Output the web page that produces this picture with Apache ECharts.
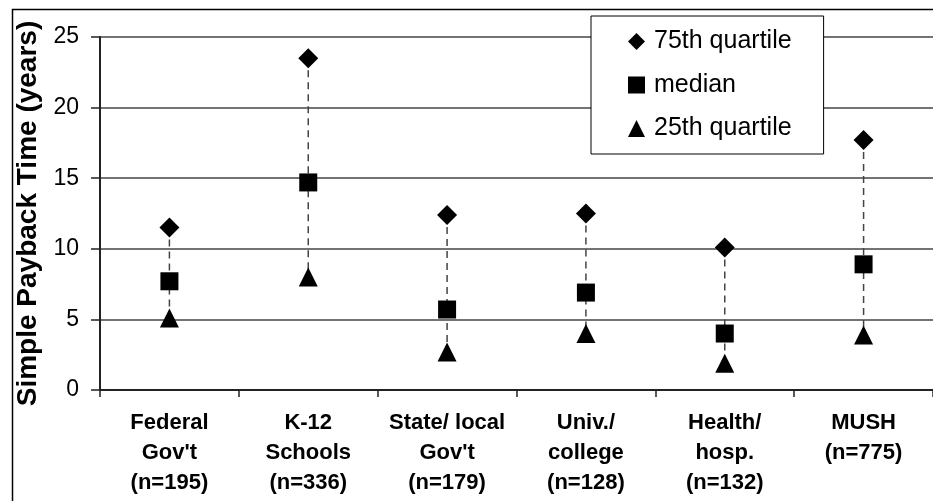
<!DOCTYPE html>
<html>
<head>
<meta charset="utf-8">
<title>Simple Payback Time by Sector</title>
<script src="https://cdn.jsdelivr.net/npm/echarts@6/dist/echarts.min.js"></script>
<style>
  html, body { margin: 0; padding: 0; background: #fff; }
  #chart { width: 933px; height: 501px; }
</style>
</head>
<body>
<div id="chart"></div>
<script>
// Sector categories (three-line axis labels)
const categories = [
  "Federal\nGov't\n(n=195)",
  "K-12\nSchools\n(n=336)",
  "State/ local\nGov't\n(n=179)",
  "Univ./\ncollege\n(n=128)",
  "Health/\nhosp.\n(n=132)",
  "MUSH\n(n=775)"
];

// Simple payback time (years)
const q75 = [11.5, 23.5, 12.4, 12.5, 10.1, 17.7];
const median = [7.7, 14.7, 5.7, 6.9, 4.0, 8.9];
const q25 = [5.1, 8.0, 2.7, 4.0, 1.9, 3.9];

const yTicks = [0, 5, 10, 15, 20, 25];

const FONT = "'Liberation Sans', Arial, sans-serif";

// Range rows for the dashed connector from 75th to 25th quartile
const rangeRows = categories.map((c, i) => [i, q75[i], q25[i]]);

const chart = echarts.init(document.getElementById('chart'), null, { renderer: 'canvas' });

chart.setOption({
  animation: false,
  backgroundColor: '#ffffff',
  textStyle: { fontFamily: FONT, color: '#000' },
  graphic: [{
    type: 'rect',
    left: 10, top: 7,
    shape: { width: 1000, height: 1000 },
    style: { fill: 'none', stroke: '#000', lineWidth: 1.5 },
    z: -1,
    silent: true
  }],
  grid: { left: 100, top: 37, width: 836, height: 353, containLabel: false },
  legend: {
    orient: 'vertical',
    left: 591, top: 16,
    padding: [13, 32, 13, 37],
    itemWidth: 17, itemHeight: 17,
    itemGap: 18.5,
    backgroundColor: '#fff',
    borderColor: '#000', borderWidth: 1,
    selectedMode: false,
    itemStyle: { opacity: 1 },
    textStyle: { fontFamily: FONT, fontSize: 25, color: '#000', padding: [0, 0, 0, 4] },
    data: [
      { name: '75th quartile', icon: 'diamond' },
      { name: 'median', icon: 'rect' },
      { name: '25th quartile', icon: 'triangle' }
    ]
  },
  xAxis: {
    type: 'category',
    data: categories,
    boundaryGap: true,
    axisLine: { lineStyle: { color: '#222', width: 2 } },
    axisTick: { show: true, length: 7, lineStyle: { color: '#222', width: 1.5 } },
    axisLabel: {
      interval: 0,
      margin: 18,
      fontFamily: FONT, fontSize: 22, fontWeight: 'bold', lineHeight: 30, color: '#000'
    },
    splitLine: { show: false }
  },
  yAxis: {
    type: 'value',
    min: yTicks[0], max: yTicks[yTicks.length - 1], interval: 5,
    name: 'Simple Payback Time (years)',
    nameLocation: 'middle',
    nameGap: 48,
    nameTextStyle: { fontFamily: FONT, fontSize: 28, fontWeight: 'bold', color: '#000' },
    axisLine: { show: true, lineStyle: { color: '#222', width: 2 } },
    axisTick: { show: true, length: 9, lineStyle: { color: '#222', width: 1.5 } },
    axisLabel: { margin: 21, fontFamily: FONT, fontSize: 23, color: '#000' },
    splitLine: { show: true, lineStyle: { color: '#444', width: 1.5 } }
  },
  series: [
    {
      type: 'custom',
      name: 'range',
      data: rangeRows,
      z: 1,
      silent: true,
      renderItem: function (params, api) {
        const top = api.coord([api.value(0), api.value(1)]);
        const bot = api.coord([api.value(0), api.value(2)]);
        return {
          type: 'line',
          shape: { x1: top[0], y1: top[1], x2: bot[0], y2: bot[1] },
          style: { stroke: '#444', lineWidth: 1.5, lineDash: [7, 5] }
        };
      }
    },
    {
      type: 'scatter', name: '75th quartile', data: q75,
      symbol: 'diamond', symbolSize: 20, z: 3,
      itemStyle: { color: '#000', opacity: 1 }
    },
    {
      type: 'scatter', name: 'median', data: median,
      symbol: 'rect', symbolSize: 18, z: 3,
      itemStyle: { color: '#000', opacity: 1 }
    },
    {
      type: 'scatter', name: '25th quartile', data: q25,
      symbol: 'triangle', symbolSize: 19, z: 3,
      itemStyle: { color: '#000', opacity: 1 }
    }
  ]
});
</script>
</body>
</html>
